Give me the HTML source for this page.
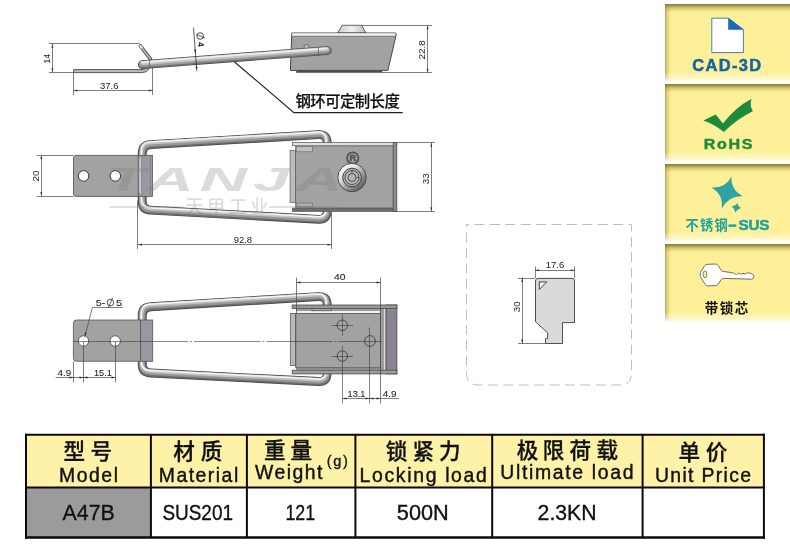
<!DOCTYPE html>
<html lang="zh">
<head>
<meta charset="utf-8">
<title>A47B</title>
<style>
html,body{margin:0;padding:0;background:#fff}
body{width:790px;height:557px;overflow:hidden;position:relative;font-family:"Liberation Sans","Noto Sans CJK SC",sans-serif}
svg{position:absolute;left:0;top:0;display:block;will-change:transform}
text{font-family:"Liberation Sans","Noto Sans CJK SC",sans-serif}
.dim{font-size:9.5px;fill:#1e1e1e;text-anchor:middle}
.dl{stroke:#484848;stroke-width:.7;fill:none}
.cl{stroke:#3a3a3a;stroke-width:.6;fill:none}
.hz{font-size:21.6px;font-weight:500;fill:#111;text-anchor:middle;stroke:#111;stroke-width:.3px}
.en{font-size:19.4px;fill:#111;stroke:#111;stroke-width:.4px}
.val{font-size:22px;fill:#111;stroke:#111;stroke-width:.35px}
</style>
</head>
<body>
<svg width="790" height="557" viewBox="0 0 790 557">
<defs>
<linearGradient id="tileTop" x1="0" y1="0" x2="0" y2="1">
<stop offset="0" stop-color="#7a6e30" stop-opacity=".9"/><stop offset=".25" stop-color="#8a7c38" stop-opacity=".7"/><stop offset=".55" stop-color="#a09048" stop-opacity=".35"/><stop offset="1" stop-color="#b0a050" stop-opacity="0"/>
</linearGradient>
<linearGradient id="tileBot" x1="0" y1="0" x2="0" y2="1">
<stop offset="0" stop-color="#fff" stop-opacity="0"/><stop offset=".5" stop-color="#fff" stop-opacity=".35"/><stop offset=".8" stop-color="#fff" stop-opacity=".65"/><stop offset="1" stop-color="#fff" stop-opacity=".92"/>
</linearGradient>
<linearGradient id="tileLeft" x1="0" y1="0" x2="1" y2="0">
<stop offset="0" stop-color="#988838" stop-opacity=".7"/><stop offset=".4" stop-color="#a89840" stop-opacity=".32"/><stop offset="1" stop-color="#a89840" stop-opacity="0"/>
</linearGradient>
<g id="tile">
<rect x="665" y="0" width="125" height="78" fill="#fef098"/>
<rect x="665" y="0" width="6" height="78" fill="url(#tileLeft)"/>
<rect x="665" y="68" width="125" height="10" fill="url(#tileBot)"/>
<rect x="665" y="0" width="125" height="8.5" fill="url(#tileTop)"/>
</g>
<linearGradient id="lockG" x1=".15" y1=".1" x2=".85" y2=".9">
<stop offset="0" stop-color="#ffffff"/><stop offset=".3" stop-color="#e2e2e2"/><stop offset=".6" stop-color="#a0a0a0"/><stop offset="1" stop-color="#5c5c5c"/>
</linearGradient>
<linearGradient id="knobG" x1="0" y1="0" x2="1" y2="0">
<stop offset="0" stop-color="#c8c8c8"/><stop offset=".5" stop-color="#f2f2f2"/><stop offset="1" stop-color="#c0c0c0"/>
</linearGradient>
<path id="w1" d="M142.4,64.6 L327.2,50.6"/>
<path id="w2" d="M142.2,153.6 Q142.2,145.1 150.7,144.6 L318.6,134.65 Q327.1,134.15 327.1,142.65 L327.1,211.3 Q327.1,219.8 318.6,219.34 L150.7,210.16 Q142.2,209.7 142.2,201.2 Z"/>
<path id="w3" d="M142.2,315.7 Q142.2,307.2 150.7,306.69 L318.6,296.61 Q327.1,296.1 327.1,304.6 L327.1,373.5 Q327.1,382 318.6,381.56 L150.7,372.94 Q142.2,372.5 142.2,364 Z"/>
</defs>
<rect width="790" height="557" fill="#fff"/>

<!-- SIDEBAR -->
<g id="sidebar">
<use href="#tile" y="4"/>
<use href="#tile" y="84"/>
<use href="#tile" y="164"/>
<use href="#tile" y="244"/>
</g>
<g id="icons">
<!-- CAD file icon -->
<path d="M711.8,18.2 H728.4 L743.4,29.6 V52.6 H711.8 Z" fill="#fff" stroke="#2a78b8" stroke-width=".9"/>
<path d="M728.2,17.8 L743.8,29.8 H728.2 Z" fill="#1a6aad"/>
<text x="692.2" y="71.2" font-size="16.4" font-weight="bold" fill="#1762a8" stroke="#1762a8" stroke-width=".5" textLength="69" lengthAdjust="spacing">CAD-3D</text>
<!-- RoHS -->
<path d="M703.3,120.6 L715.7,114.6 L722.9,123.6 Q735,107.5 751.6,98.7 Q749.2,105 752.8,111.2 Q737.5,118.5 723.8,132 Q714.5,124.5 703.3,120.6 Z" fill="#1c8b3c"/>
<text transform="translate(703.8,149.3) scale(1.12,1)" font-size="14.4" font-weight="bold" fill="#1c8b3c" stroke="#1c8b3c" stroke-width=".4" textLength="43.4" lengthAdjust="spacing">RoHS</text>
<!-- SUS star -->
<path d="M731.5,176.6 Q730.6,190 743,196.4 Q728.8,195.4 721.7,208.6 Q723.6,193.8 711,187.4 Q725.4,188.8 731.5,176.6 Z" fill="#2ea3a1"/>
<path d="M737.6,203 Q738,206.6 741.2,208 Q737.6,208.8 735.2,212.6 Q734.8,208.6 731.8,206.6 Q735.6,206.2 737.6,203 Z" fill="#2ea3a1"/>
<text y="229.8" font-size="13.2" font-weight="bold" fill="#1fa19f"><tspan x="685.4" textLength="42.4" lengthAdjust="spacing">不锈钢</tspan><tspan x="728.6" font-size="14" stroke="#1fa19f" stroke-width=".8">–</tspan><tspan x="738.4" y="230" font-size="15.2" stroke="#1fa19f" stroke-width=".5" textLength="31" lengthAdjust="spacing">SUS</tspan></text>
<!-- key -->
<path d="M700.1,274.4 Q700.2,272.6 701.4,270.6 L704.6,265.8 Q705.6,264.4 707.4,264.3 L715.4,264 Q717.2,264 718.2,265.6 L721.2,270.4 Q721.8,271.2 723,271.4 L732.6,272.8 Q734.2,273.2 735.4,274.2 Q736.6,275 737.6,273.8 Q738.6,272.4 739.8,273.6 Q740.8,274.8 741.8,273.8 Q742.8,272.8 744,273.6 Q745.2,274.6 746.4,273.4 Q747.6,272.4 749.2,273 L751.6,273.6 Q754,275 754,276.6 Q754,278.4 751.8,279.2 L723.4,278.4 Q721.8,278.4 721,279.8 L718.4,284 Q717.4,285.4 715.8,285.5 L708,286 Q706.4,286 705.4,284.6 L701.4,278.4 Q700.2,276.4 700.1,274.4 Z" fill="#fff" stroke="#6e6e60" stroke-width="1" stroke-linejoin="round"/>
<ellipse cx="705" cy="274.3" rx="1.9" ry="3.4" fill="#fdf09a" stroke="#6e6e60" stroke-width=".9"/>
<text x="726.4" y="313.2" text-anchor="middle" font-size="13.5" font-weight="bold" fill="#111" textLength="43.5" lengthAdjust="spacing">带锁芯</text>
</g>


<g id="drawing">
<!-- ===== dashed box with profile ===== -->
<path d="M466.5,224.5 H631.5 V373.5 Q631.5,385 620,385 H478 Q466.5,385 466.5,373.5 Z" fill="none" stroke="#b6b6b6" stroke-width=".9" stroke-dasharray="10 5.4" stroke-dashoffset="-8"/>
<path d="M535.5,281 Q535.5,278.4 538,278.4 H572 Q574.5,278.4 574.5,281 V322.6 H562.5 V343.5 H545.5 V338.6 H547.6 V332.8 L535.5,321.8 Z" fill="#dadada" stroke="#3c3c3c" stroke-width=".9"/>
<path d="M539.3,281.9 H546.8 L539.3,289.5 Z" fill="#f4f4f4" stroke="#333" stroke-width=".9"/>
<path class="dl" d="M535.5,266.5 V278 M574.5,266.5 V278 M535,270.5 H574.8 M518,278.5 H535 M518,343.5 H545.4 M522.5,277.5 V343.6"/>
<path d="M535,270.3 l4,-1 v2 Z M574.8,270.3 l-4,-1 v2 Z M522.2,277.9 l-1,4 h2 Z M522.2,343.6 l-1,-4 h2 Z" fill="#3a3a3a"/>
<text class="dim" x="555" y="267.7">17.6</text>
<text class="dim" style="font-size:9.9px" transform="translate(519.8,306.7) rotate(-90)">30</text>

<!-- ===== TOP (side) view ===== -->
<path class="dl" d="M49,43.5 H139.5 M49,72.5 H73.4 M52.5,43.5 V72.2 M73.5,72.5 V95 M152.5,63.5 V95 M73.4,90.5 H152.7"/>
<path d="M52.4,43.8 l-1,4 h2 Z M52.4,72.2 l-1,-4 h2 Z M73.4,90.4 l4,-1 v2 Z M152.7,90.4 l-4,-1 v2 Z" fill="#3a3a3a"/>
<text class="dim" style="font-size:8.6px;stroke:#1e1e1e;stroke-width:.08px" transform="translate(50.1,58.8) rotate(-90)">14</text>
<text class="dim" x="109.3" y="88.7">37.6</text>
<!-- flat plate + hook -->
<path d="M73.6,69.6 H142 Q146,69.6 147.5,67 L148.8,69 Q147,72.6 142,72.6 H73.6 Z" fill="#bcbcbc" stroke="#4a4a4a" stroke-width=".9"/>
<path d="M140.4,46 L150.4,58.8" stroke="#484848" stroke-width="3.6" stroke-linecap="round" fill="none"/>
<path d="M140.4,46 L150.4,58.8" stroke="#b4b4b4" stroke-width="1.9" stroke-linecap="round" fill="none"/>
<path d="M140.4,46 L141.6,47.6" stroke="#fff" stroke-width="1.9" stroke-linecap="round" fill="none"/>
<!-- box -->
<path d="M296.5,70.4 H382 V72.6 H296.5 Z" fill="#4c4c4c" stroke="#444" stroke-width=".5"/>
<path d="M337.4,33 L342.3,25.3 H361.7 L365.8,33 Z" fill="url(#knobG)" stroke="#555" stroke-width=".9"/>
<path d="M291.8,33 H395.2 Q396.6,33 396.2,34.6 L387.9,70.4 H290.4 Z" fill="#a2a2a2" stroke="#484848" stroke-width="1"/>
<path d="M292.2,33.3 H395.6 L395,36 H292 Z" fill="#f2f2f2"/>
<path d="M292,36.2 H395" stroke="#666" stroke-width=".7"/>
<circle cx="306.6" cy="47.2" r="2.6" fill="#bdbdbd" stroke="#555" stroke-width=".7"/>
<!-- rod -->
<g fill="none" stroke-linecap="round">
<use href="#w1" stroke="#4a4a4a" stroke-width="8.9"/>
<use href="#w1" stroke="#727272" stroke-width="7.6"/>
<use href="#w1" stroke="#9c9c9c" stroke-width="6" transform="translate(-.2,-.7)"/>
<use href="#w1" stroke="#c6c6c6" stroke-width="3.8" transform="translate(-.3,-1.5)"/>
<use href="#w1" stroke="#efefef" stroke-width="1.7" transform="translate(-.4,-2.3)"/>
</g>
<path d="M318.4,47 V55.8 M149.6,59.6 V68.4" stroke="#555" stroke-width=".7" fill="none"/>
<!-- dia 4 -->
<path d="M193.5,27.6 L196.8,71.1" stroke="#333" stroke-width=".8" fill="none"/>
<path d="M195.45,53.6 l-1.3,-4 l2,-.15 Z M196.3,64.4 l-.7,4.1 l2,-.15 Z" fill="#222"/>
<g transform="translate(200.2,36) rotate(85.7)"><circle cx="0" cy="0" r="3.3" fill="none" stroke="#222" stroke-width=".8"/><path d="M-1.8,3.6 L2.4,-4.6" stroke="#222" stroke-width=".7"/><text x="8.5" y="3" text-anchor="middle" font-size="8.4" font-weight="bold" fill="#222">4</text></g>
<!-- 22.8 -->
<path class="dl" d="M361.7,25.5 H432 M382,72.5 H432 M427.5,25.5 V72.8"/>
<path d="M427.6,25.3 l-1,4 h2 Z M427.6,72.8 l-1,-4 h2 Z" fill="#3a3a3a"/>
<text class="dim" style="font-size:9.9px" transform="translate(425.1,49.9) rotate(-90)">22.8</text>
<!-- leader + label -->
<path d="M234.6,62 L293.9,112.6 H402.8" fill="none" stroke="#222" stroke-width="1.2"/>
<text x="295.4" y="107.2" font-size="15.4" font-weight="500" fill="#111" stroke="#111" stroke-width=".2" textLength="104.4" lengthAdjust="spacing">钢环可定制长度</text>

<!-- ===== MIDDLE (front) view ===== -->
<!-- wire -->
<g fill="none" stroke-linejoin="round">
<use href="#w2" stroke="#444" stroke-width="8.9"/>
<use href="#w2" stroke="#6c6c6c" stroke-width="7.5"/>
<use href="#w2" stroke="#969696" stroke-width="5.8" transform="translate(-.3,-.8)"/>
<use href="#w2" stroke="#c4c4c4" stroke-width="3.4" transform="translate(-.6,-1.7)"/>
<use href="#w2" stroke="#f4f4f4" stroke-width="1.5" transform="translate(-.9,-2.5)"/>
</g>
<!-- plate -->
<path d="M76.2,155.4 H138.5 V196.4 H76.2 Q73.5,196.4 73.5,193.7 V158.1 Q73.5,155.4 76.2,155.4 Z" fill="#a2a2a2" stroke="#4a4a4a" stroke-width=".8"/>
<circle cx="83.6" cy="175.9" r="5.3" fill="#fff" stroke="#333" stroke-width="1"/>
<circle cx="115.3" cy="175.9" r="5.3" fill="#fff" stroke="#333" stroke-width="1"/>
<rect x="138.2" y="155.3" width="14.3" height="41.1" fill="#9c96a3" stroke="#555" stroke-width=".8"/>
<path d="M138.8,158 Q141.2,156.2 141.6,155.4 V195.6 Q141,195 138.8,193 Z" fill="#c9c6cc" stroke="#666" stroke-width=".5"/>
<path d="M150.4,155.4 V195.6" stroke="#777" stroke-width=".6"/>
<!-- body -->
<rect x="290.1" y="150.6" width="5.6" height="52" fill="#bdbdbd" stroke="#555" stroke-width=".7"/>
<rect x="295.7" y="145.8" width="97.6" height="62.4" fill="#a2a2a2" stroke="#5a5a5a" stroke-width=".7"/>
<rect x="292.3" y="142.6" width="104.4" height="3.2" fill="#dedede" stroke="#555" stroke-width=".7"/>
<rect x="292.3" y="208.1" width="104.4" height="3.3" fill="#6e6e6e" stroke="#555" stroke-width=".7"/>
<rect x="296.2" y="146.6" width="16.2" height="5.2" fill="#bebebe" stroke="#666" stroke-width=".6"/>
<rect x="296.2" y="203" width="16.2" height="3.8" fill="#acacac" stroke="#666" stroke-width=".6"/>
<rect x="393.2" y="142.6" width="3.6" height="68.8" fill="#8f8a96" stroke="#4a4a4a" stroke-width=".8"/>
<!-- lock -->
<circle cx="352.8" cy="158" r="5.7" fill="none" stroke="#505050" stroke-width="1.7"/>
<text x="352.8" y="161.4" text-anchor="middle" font-size="9.4" font-weight="bold" fill="#505050" stroke="#505050" stroke-width=".3">R</text>
<circle cx="352" cy="177.5" r="14.2" fill="url(#lockG)" stroke="#4a4a4a" stroke-width="1"/>
<circle cx="352" cy="177.5" r="9.3" fill="#adadad" stroke="#444" stroke-width="1"/>
<circle cx="352" cy="177.5" r="7" fill="#b8b8b8" stroke="#444" stroke-width=".9"/>
<path d="M352,170.5 v2.8 M359,177.5 h-2.8" stroke="#444" stroke-width=".9"/>
<circle cx="352" cy="177.5" r="4" fill="#b4b4b4" stroke="#444" stroke-width=".9"/>
<!-- dims -->
<path class="dl" d="M36.7,155.5 H73.4 M36.7,196.5 H73.4 M41.5,155.5 V196.4 M137.5,200.5 V249 M331.5,212.5 V249 M138,244.5 H331.5 M396.7,142.5 H435 M396.7,211.5 H435 M431.5,142.5 V211.3"/>
<path d="M41.3,155 l-1,4 h2 Z M41.3,196 l-1,-4 h2 Z M138,244.8 l4,-1 v2 Z M331.5,244.8 l-4,-1 v2 Z M431.3,142.8 l-1,4 h2 Z M431.3,211.3 l-1,-4 h2 Z" fill="#3a3a3a"/>
<text class="dim" style="font-size:9.9px" transform="translate(39.4,176) rotate(-90)">20</text>
<text class="dim" x="242.9" y="242.8">92.8</text>
<text class="dim" style="font-size:9.9px" transform="translate(429,178.7) rotate(-90)">33</text>

<!-- ===== BOTTOM view ===== -->
<g fill="none" stroke-linejoin="round">
<use href="#w3" stroke="#444" stroke-width="8.9"/>
<use href="#w3" stroke="#6c6c6c" stroke-width="7.5"/>
<use href="#w3" stroke="#969696" stroke-width="5.8" transform="translate(-.3,-.8)"/>
<use href="#w3" stroke="#c4c4c4" stroke-width="3.4" transform="translate(-.6,-1.7)"/>
<use href="#w3" stroke="#f4f4f4" stroke-width="1.5" transform="translate(-.9,-2.5)"/>
</g>
<!-- plate -->
<path d="M76.4,320 H140.5 V361.3 H76.4 Q73.4,361.3 73.4,358.3 V323 Q73.4,320 76.4,320 Z" fill="#a2a2a2" stroke="#555" stroke-width=".8"/>
<rect x="140.5" y="320" width="12.2" height="41.3" fill="#9c96a3" stroke="#555" stroke-width=".8"/>
<circle cx="83.5" cy="341" r="5.2" fill="#fff" stroke="#444" stroke-width=".8"/>
<circle cx="115.2" cy="341" r="5.2" fill="#fff" stroke="#444" stroke-width=".8"/>
<!-- body -->
<rect x="290.3" y="313.4" width="5.5" height="52.1" fill="#b9b9b9" stroke="#4f4f4f" stroke-width=".7"/>
<rect x="296" y="308.5" width="84.4" height="2.6" fill="#9c9c9c"/>
<rect x="296" y="311" width="84.4" height="2.6" fill="#f2f2f2"/>
<rect x="312" y="308.4" width="19.4" height="2.4" fill="#a6a6a6" stroke="#4f4f4f" stroke-width=".7"/>
<rect x="296" y="367.6" width="84.4" height="2.6" fill="#9c9c9c"/>
<rect x="295.8" y="313.5" width="84.6" height="54.3" fill="#a2a2a2" stroke="#4a4a4a" stroke-width=".8"/>
<rect x="380.4" y="308.5" width="5.8" height="61.7" fill="#9c9c9c" stroke="#5a5a5a" stroke-width=".6"/>
<path d="M384.6,308.8 V370" stroke="#dcdcdc" stroke-width="1.3"/>
<rect x="386.2" y="305" width="10.7" height="68.9" fill="#8a8490" stroke="#4a4a4a" stroke-width=".8"/>
<rect x="292.2" y="305" width="104.7" height="3.6" fill="#989898" stroke="#4a4a4a" stroke-width=".8"/>
<rect x="292.2" y="370.2" width="104.7" height="3.7" fill="#9c9c9c" stroke="#4a4a4a" stroke-width=".8"/>
<circle cx="342.3" cy="325.3" r="5.2" fill="none" stroke="#333" stroke-width=".8"/>
<circle cx="342.3" cy="356.1" r="5.2" fill="none" stroke="#333" stroke-width=".8"/>
<circle cx="370" cy="341" r="5.4" fill="none" stroke="#333" stroke-width=".8"/>
<path class="cl" d="M331.5,325.5 H353 M331.5,356.5 H353 M342.5,314.5 V336 M342.5,345.5 V403.5 M369.5,327.5 V403.5 M73,341.5 H188 M190,341.5 H192 M194,341.5 H260.5 M262.5,341.5 H264.5 M266.5,341.5 H332.5 M334.5,341.5 H336.5 M338.5,341.5 H382"/>
<!-- dims -->
<path class="dl" d="M84.8,336.5 L92.4,307.5 H122.8 M73.5,361.5 V382.5 M83.5,341.5 V382.5 M115.5,341.5 V382.5 M55.6,377.5 H115.8 M296.5,277.5 V313 M380.5,277.5 V403.5 M296.1,282.5 H380.6 M342.3,398.5 H399"/>
<path d="M84.8,336.4 l.1,-4.2 l1.9,.5 Z M73.5,377.5 l-4,-1 v2 Z M83.5,377.5 l-4,-1 v2 Z M83.5,377.5 l4,-1 v2 Z M115.5,377.5 l-4,-1 v2 Z M296.5,282.5 l4,-1 v2 Z M380.5,282.5 l-4,-1 v2 Z M342.5,398.5 l4,-1 v2 Z M369.5,398.5 l-4,-1 v2 Z M369.5,398.5 l4,-1 v2 Z M380.5,398.5 l-4,-1 v2 Z" fill="#2a2a2a"/>
<text class="dim" style="font-size:8.6px;text-anchor:start;stroke:#1e1e1e;stroke-width:.08px" x="95.8" y="305.8" textLength="9.6" lengthAdjust="spacingAndGlyphs">5-</text>
<circle cx="110.4" cy="302.6" r="3.3" fill="none" stroke="#222" stroke-width=".8"/><path d="M108.6,307.4 L112.6,297.6" stroke="#222" stroke-width=".7"/>
<text class="dim" style="font-size:8.6px;text-anchor:start;stroke:#1e1e1e;stroke-width:.08px" x="116" y="305.8" textLength="6.2" lengthAdjust="spacingAndGlyphs">5</text>
<text class="dim" style="font-size:8.6px;text-anchor:start;stroke:#1e1e1e;stroke-width:.08px" x="57.5" y="375.9" textLength="13.6" lengthAdjust="spacingAndGlyphs">4.9</text>
<text class="dim" style="font-size:8.6px;text-anchor:start;stroke:#1e1e1e;stroke-width:.08px" x="94" y="375.9" textLength="17.8" lengthAdjust="spacingAndGlyphs">15.1</text>
<text class="dim" style="font-size:8.6px;text-anchor:start;stroke:#1e1e1e;stroke-width:.08px" x="334" y="279.7" textLength="11.5" lengthAdjust="spacingAndGlyphs">40</text>
<text class="dim" style="font-size:8.6px;text-anchor:start;stroke:#1e1e1e;stroke-width:.08px" x="347.6" y="396.9" textLength="17.8" lengthAdjust="spacingAndGlyphs">13.1</text>
<text class="dim" style="font-size:8.6px;text-anchor:start;stroke:#1e1e1e;stroke-width:.08px" x="382.8" y="396.9" textLength="13.8" lengthAdjust="spacingAndGlyphs">4.9</text>

<!-- ===== watermark ===== -->
<g opacity=".27" fill="#7d7d7d">
<text transform="translate(105.5,190.6) scale(1.95,1)" font-size="33.5" font-weight="bold" font-style="italic" textLength="121.5" lengthAdjust="spacing">TANJA</text>
<rect x="109.5" y="206.2" width="74" height="1.6"/>
<rect x="269.5" y="206.2" width="67" height="1.6"/>
<text x="185.6" y="213" font-size="18" font-weight="500" textLength="83" lengthAdjust="spacing">天甲工业</text>
</g>
</g>


<g id="table">
<rect x="26" y="434.5" width="738" height="53" fill="#fdf2a8"/>
<rect x="26" y="487.5" width="125" height="50" fill="#9b9b9b"/>
<path d="M25,434.7 H765 M25,487.6 H765" stroke="#0a0a0a" stroke-width="2" fill="none"/>
<path d="M25,537.5 H765" stroke="#0a0a0a" stroke-width="2.4" fill="none"/>
<path d="M26,433.7 V538.7 M150.9,434 V538 M246.9,434 V538 M355.4,434 V538 M492.2,434 V538 M642.6,434 V538 M763.9,433.7 V538.7" stroke="#0a0a0a" stroke-width="2" fill="none"/>
<text class="hz" y="459.4" x="74.2 101.2">型号</text>
<text class="hz" y="459.4" x="184 211.6">材质</text>
<text class="hz" y="458" x="274.8 301.2">重量</text>
<text class="hz" y="459.2" x="396.6 423.4 449.7">锁紧力</text>
<text class="hz" y="458" x="527.5 553.5 580.3 607.4">极限荷载</text>
<text class="hz" y="459.8" x="689.3 716.6">单价</text>
<text class="en" x="59" y="481.8" textLength="59" lengthAdjust="spacing">Model</text>
<text class="en" x="158.8" y="482.2" textLength="79.4" lengthAdjust="spacing">Material</text>
<text class="en" x="255" y="479.4" textLength="67.4" lengthAdjust="spacing">Weight</text>
<text x="326.8" y="465.6" font-size="14.6" fill="#111" stroke="#111" stroke-width=".3" textLength="21" lengthAdjust="spacing">(g)</text>
<text class="en" x="359.6" y="481.6" textLength="127.2" lengthAdjust="spacing">Locking load</text>
<text class="en" x="500.2" y="479.4" textLength="133.4" lengthAdjust="spacing">Ultimate load</text>
<text class="en" x="655" y="481.8" textLength="96" lengthAdjust="spacing">Unit Price</text>
<text class="val" x="62.6" y="520.4" textLength="52.2" lengthAdjust="spacingAndGlyphs">A47B</text>
<text class="val" x="162.4" y="519.8" textLength="70.6" lengthAdjust="spacingAndGlyphs">SUS201</text>
<text class="val" x="285.4" y="520.4" textLength="29.8" lengthAdjust="spacingAndGlyphs">121</text>
<text class="val" x="396.8" y="520.4" textLength="52" lengthAdjust="spacingAndGlyphs">500N</text>
<text class="val" x="537.6" y="520.4" textLength="59" lengthAdjust="spacingAndGlyphs">2.3KN</text>
</g>

</svg>
</body>
</html>
